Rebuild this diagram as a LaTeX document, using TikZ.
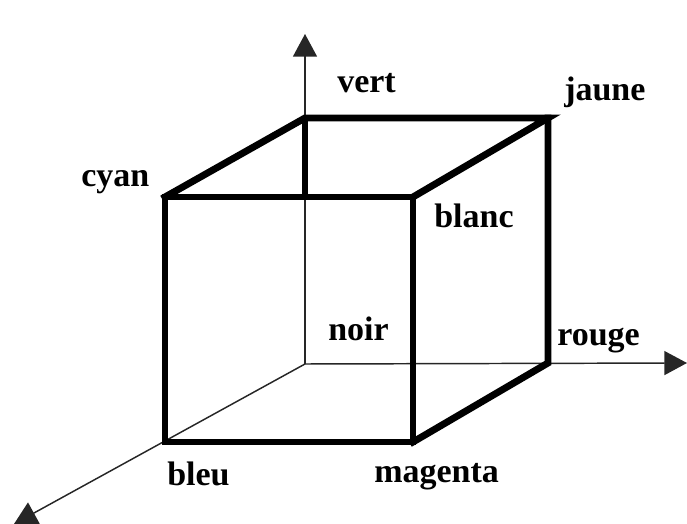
\documentclass[tikz,border=0pt]{standalone}
\usepackage{fontspec}
\setmainfont{Liberation Serif}
\usetikzlibrary{arrows.meta}
\begin{document}
\begin{tikzpicture}[x=0.75pt,y=-0.75pt,
  axis/.style={line width=1.1pt,draw=black!85,-{Triangle[length=17pt,width=18pt]}},
  edge/.style={line width=5.2pt,line join=miter,line cap=rect},
  lab/.style={anchor=base west,inner sep=0pt,font=\fontsize{25.5}{30}\selectfont\bfseries}]
\useasboundingbox (0,0) rectangle (687,524);
% corners
\coordinate (noir) at (305,364);
\coordinate (vert) at (305,118);
\coordinate (jaune) at (548,118);
\coordinate (rouge) at (548,363);
\coordinate (cyan) at (165,197);
\coordinate (blanc) at (413,197);
\coordinate (magenta) at (413,442);
\coordinate (bleu) at (165,442);
\coordinate (hid) at (305,199);
% axis ends
\coordinate (ztip) at (305,34);
\coordinate (xtip) at (687,363);
\coordinate (ytip) at (14,524);
% axes
\draw[axis] (noir) -- (ztip);
\draw[axis] (noir) -- (xtip);
\draw[axis] (noir) -- (ytip);
% cube
\draw[edge] (cyan) -- (blanc) -- (magenta) -- (bleu) -- cycle;
\draw[edge] (cyan) -- (vert) -- (jaune) -- (blanc);
\draw[edge] (jaune) -- (rouge) -- (magenta);
\draw[edge,line cap=butt] (vert) -- (hid);
% labels
\node[lab] (lvert) at (337,93) {vert};
\node[lab] (ljaune) at (564,101) {jaune};
\node[lab] (lcyan) at (81,187) {cyan};
\node[lab] (lblanc) at (434,228) {blanc};
\node[lab] (lnoir) at (328,341) {noir};
\node[lab] (lrouge) at (557,346) {rouge};
\node[lab] (lbleu) at (167,486) {bleu};
\node[lab] (lmagenta) at (374,483) {magenta};
\end{tikzpicture}
\end{document}
